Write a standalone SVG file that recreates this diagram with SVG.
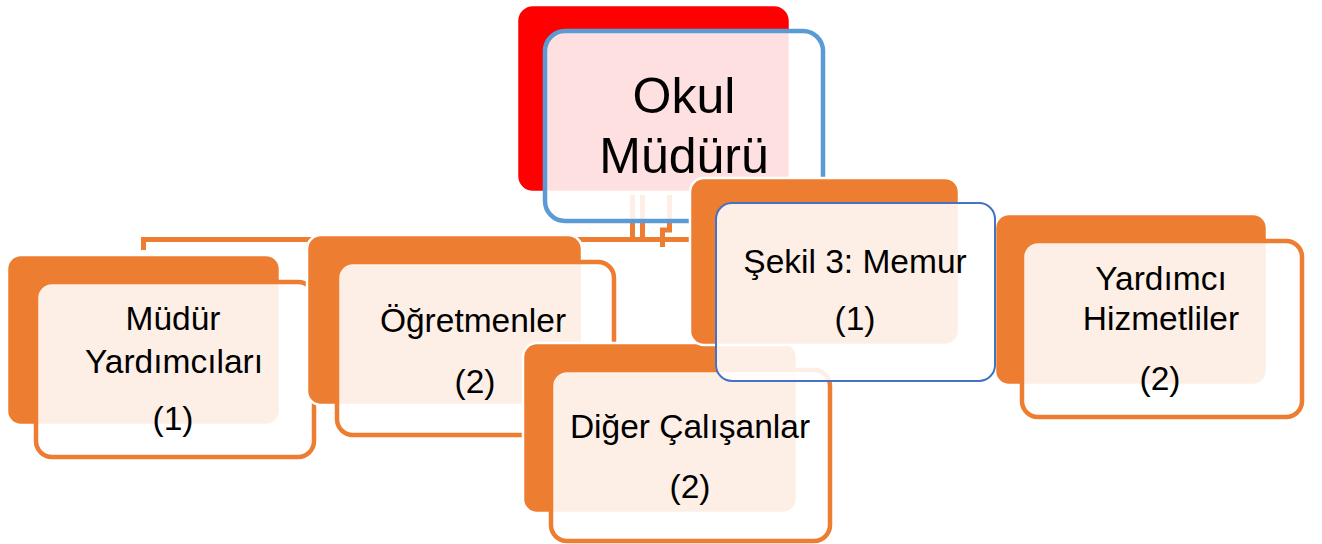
<svg xmlns="http://www.w3.org/2000/svg" width="1322" height="544" viewBox="0 0 1322 544">
<style>
.bg{fill:#ffffff}
.back{fill:#ed7d31;stroke:#ffffff;stroke-width:2.5}
.backred{fill:#ff0000;stroke:#ffffff;stroke-width:2.5}
.front{fill:#ffffff;fill-opacity:0.88;stroke:#ed7d31;stroke-width:4.5}
.frontblue{fill:#ffffff;fill-opacity:0.88;stroke:#5b9bd5;stroke-width:4.5}
.frontblue2{fill:#ffffff;fill-opacity:0.88;stroke:#4472c4;stroke-width:2}
.conn{fill:none;stroke:#ed7d31;stroke-width:5}
text{font-family:"Liberation Sans",Arial,sans-serif;fill:#000000;text-anchor:middle}
.big{font-size:50px}
.t{font-size:33.5px}
</style>
<rect class="bg" x="0" y="0" width="1322" height="544"/>
<g id="connectors">
<path class="conn" d="M143.5 250 V239.5 H690"/>
<path class="conn" d="M632.5 195 V242"/>
<path class="conn" d="M642.5 195 V242"/>
<path class="conn" d="M669.5 195 V230 H662.5 V247"/>
</g>
<g id="okul-muduru">
<rect class="backred" x="517" y="5" width="273" height="187" rx="16"/>
<rect class="frontblue" x="545" y="31" width="278" height="190" rx="20"/>
<text class="big" x="684" y="113">Okul</text>
<text class="big" x="684" y="173">Müdürü</text>
</g>
<g id="mudur-yardimcilari">
<rect class="back" x="7" y="255" width="273" height="170" rx="14"/>
<rect class="front" x="36" y="282" width="278" height="175" rx="16"/>
<text class="t" x="173" y="330">Müdür</text>
<text class="t" x="174" y="373">Yardımcıları</text>
<text class="t" x="173" y="430">(1)</text>
</g>
<g id="ogretmenler">
<rect class="back" x="307" y="235" width="275" height="170" rx="14"/>
<rect class="front" x="337" y="262" width="277" height="173" rx="16"/>
<text class="t" x="473" y="332">Öğretmenler</text>
<text class="t" x="475" y="393">(2)</text>
</g>
<g id="diger-calisanlar">
<rect class="back" x="523" y="343" width="274" height="170" rx="14"/>
<rect class="front" x="551" y="370" width="279" height="171" rx="16"/>
<text class="t" x="690" y="438">Diğer Çalışanlar</text>
<text class="t" x="690" y="498">(2)</text>
</g>
<g id="yardimci-hizmetliler">
<rect class="back" x="995" y="214" width="272" height="171" rx="14"/>
<rect class="front" x="1022" y="241" width="280" height="176" rx="16"/>
<text class="t" x="1161" y="290">Yardımcı</text>
<text class="t" x="1161" y="330">Hizmetliler</text>
<text class="t" x="1160" y="390">(2)</text>
</g>
<g id="memur">
<rect class="back" x="690" y="178" width="269" height="167" rx="14"/>
<rect class="frontblue2" x="716" y="203" width="279" height="178" rx="16"/>
<text class="t" x="855" y="273">Şekil 3: Memur</text>
<text class="t" x="855" y="330">(1)</text>
</g>
</svg>
